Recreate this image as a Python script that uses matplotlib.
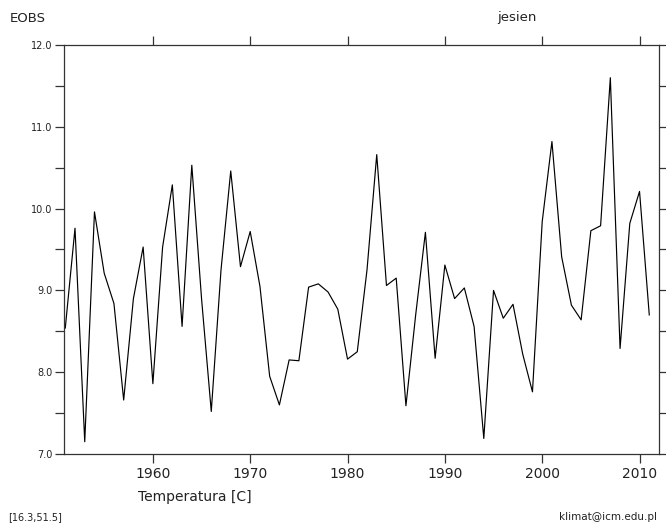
import matplotlib
matplotlib.use("Agg")
import matplotlib.pyplot as plt
import numpy as np

years = list(range(1951, 2012))
temps = [8.54, 9.76, 7.15, 9.96, 9.21, 8.84, 7.66, 8.90, 9.53, 7.86,
         9.53, 10.29, 8.56, 10.53, 8.90, 7.52, 9.25, 10.46, 9.29, 9.72,
         9.05, 7.95, 7.60, 8.15, 8.14, 9.04, 9.08, 8.98, 8.77, 8.16,
         8.25, 9.25, 10.66, 9.06, 9.15, 7.59, 8.70, 9.71, 8.17, 9.31,
         8.90, 9.03, 8.56, 7.19, 9.00, 8.66, 8.83, 8.22, 7.76, 9.84,
         10.82, 9.41, 8.82, 8.64, 9.73, 9.79, 11.60, 8.29, 9.82, 10.21,
         8.70]
xticks = [1960, 1970, 1980, 1990, 2000, 2010]
yticks_major = [7.0, 8.0, 9.0, 10.0, 11.0, 12.0]
yticks_minor = [7.5, 8.5, 9.5, 10.5, 11.5]

W, H = 666, 523
fig = plt.figure(figsize=(W / 100, H / 100), dpi=100)
ax = fig.add_axes([64.3 / W, 1 - 454 / H, (659 - 64.3) / W, (454 - 45) / H])

ax.plot(years, temps, color="black", lw=0.85)
ax.set_xlim(1950.9, 2012.0)
ax.set_ylim(7.0, 12.0)

for s in ax.spines.values():
    s.set_color("#333333")
    s.set_linewidth(0.9)

ax.set_xticks(xticks)
ax.set_xticklabels([str(t) for t in xticks])
ax.set_yticks(yticks_major)
ax.set_yticklabels([f"{v:.1f}" for v in yticks_major])
ax.set_yticks(yticks_minor, minor=True)

ax.tick_params(axis="x", which="major", direction="out", length=6.5, width=0.9,
               color="#333333", top=True, bottom=True, labelsize=10, pad=2.5,
               labelcolor="#222222")
ax.tick_params(axis="y", which="both", direction="out", length=6.5, width=0.9,
               color="#333333", left=True, right=True, labelsize=7, pad=2,
               labelcolor="#222222")

fig.text(10 / W, 1 - 18 / H, "EOBS", fontsize=9.5, va="center", ha="left", color="#222222")
fig.text(517 / W, 1 - 18 / H, "jesien", fontsize=9.5, va="center", ha="center", color="#222222")
fig.text(138 / W, 1 - 497 / H, "Temperatura [C]", fontsize=10, va="center", ha="left", color="#222222")
fig.text(8 / W, 1 - 517 / H, "[16.3,51.5]", fontsize=7, va="center", ha="left", color="#222222")
fig.text(657 / W, 1 - 517 / H, "klimat@icm.edu.pl", fontsize=7.5, va="center", ha="right", color="#222222")

fig.savefig("out.png", dpi=100)
